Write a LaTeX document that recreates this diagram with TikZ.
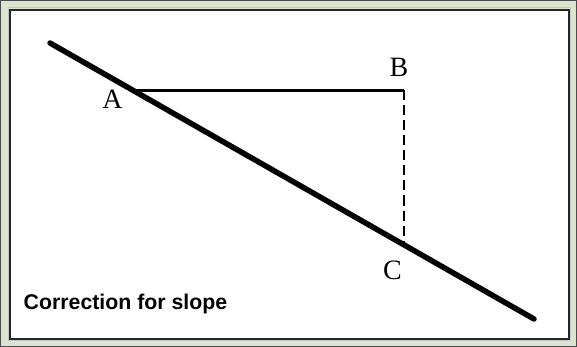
\documentclass[tikz,border=0pt]{standalone}
\usepackage{fontspec}
\setmainfont{Liberation Serif}
\setsansfont{Liberation Sans}
\definecolor{framegreen}{RGB}{220,228,208}
\begin{document}
\begin{tikzpicture}[x=1pt,y=-1pt,
  frameline/.style={draw=black!85,line width=1.8pt},
  slopeline/.style={line width=5.5pt,line cap=round},
  baseline/.style={line width=2.2pt},
  dropline/.style={line width=2.2pt,dash pattern=on 10pt off 5pt},
  ptlabel/.style={font=\fontsize{28}{30}\selectfont,inner sep=0pt},
  caption/.style={font=\sffamily\bfseries\fontsize{21.3}{23}\selectfont,inner sep=0pt,anchor=south west}]
\useasboundingbox (0,0) rectangle (577,347);
% outer frame
\fill[framegreen] (0,0) rectangle (577,347);
\draw[black!70,line width=1.2pt] (0.8,0.8) rectangle (576.2,346.2);
\draw[gray!45,line width=1pt] (8,8) rectangle (570,340);
\fill[white] (10,10) rectangle (569,339);
\draw[frameline] (10,10) rectangle (569,339);
% points
\coordinate (P) at (50,43);
\coordinate (Q) at (534,319);
\coordinate (Apt) at (133.3,90.5);
\coordinate (Bpt) at (404,90.5);
\coordinate (Cpt) at (404,245.2);
\draw[slopeline] (P) -- (Q);
\draw[baseline] (Apt) -- (Bpt);
\draw[dropline] (Bpt) -- (Cpt);
% labels
\node[ptlabel] (A) at (112.5,99.5) {A};
\node[ptlabel] (B) at (399,67.5) {B};
\node[ptlabel] (C) at (392.5,270) {C};
\node[caption] (cap) at (23.5,314.5) {Correction for slope};
\end{tikzpicture}
\end{document}
